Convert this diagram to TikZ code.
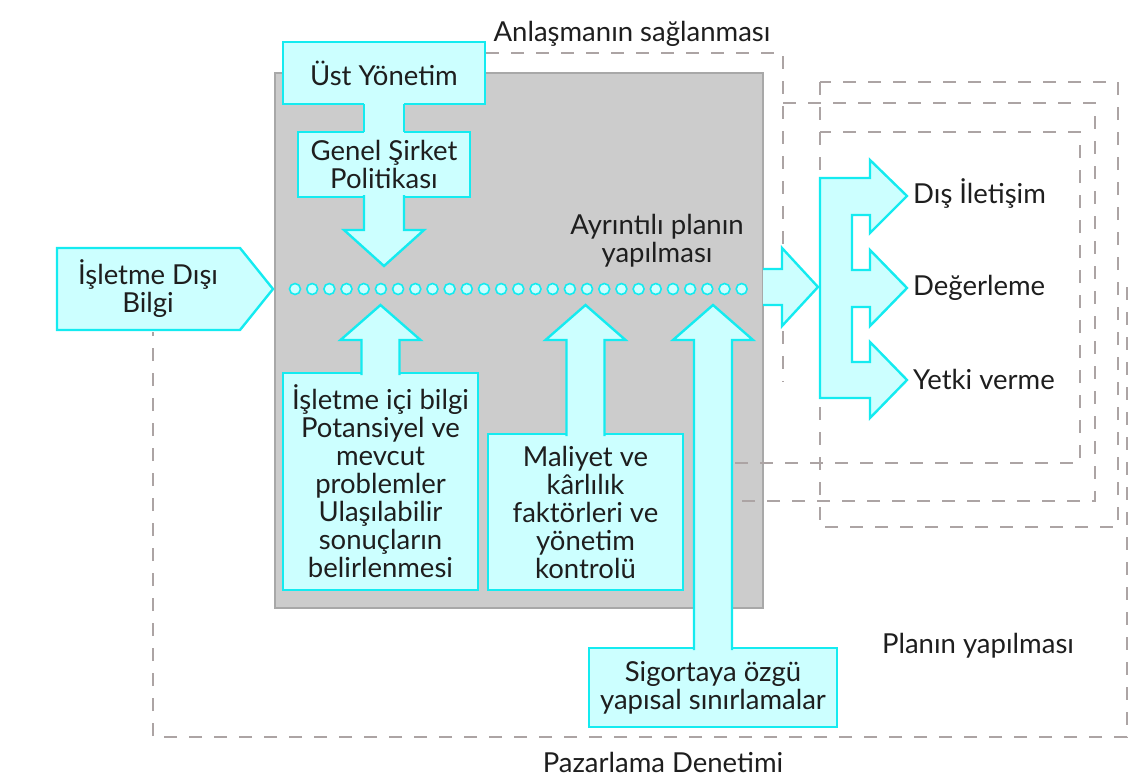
\documentclass[tikz,border=0pt]{standalone}
\usepackage{fontspec}
\setmainfont{Lato}
\usetikzlibrary{calc}

\definecolor{cfill}{RGB}{204,255,255}
\definecolor{cline}{RGB}{20,235,240}
\definecolor{gbox}{RGB}{204,204,204}
\definecolor{gedge}{RGB}{168,168,168}
\definecolor{dline}{RGB}{172,164,164}
\definecolor{txt}{RGB}{30,30,30}

\tikzset{
  blk/.style={fill=cfill, draw=cline, line width=2.4pt},
  box/.style={blk, inner sep=0pt, outer sep=0pt, align=center},
  dashline/.style={draw=dline, line width=2.2pt, dash pattern=on 13pt off 12pt},
  label/.style={text=txt, align=center, inner sep=0pt},
  dotc/.style={circle, fill=cfill, draw=cline, line width=1.6pt, minimum size=11pt, inner sep=0pt},
}

\begin{document}
\begin{tikzpicture}[x=1pt, y=-1pt, font=\fontsize{27.5}{28}\selectfont, text=txt]
\useasboundingbox (0,0) rectangle (1144,782);

% planning area
\node[fill=gbox, draw=gedge, line width=2.5pt, minimum width=488pt, minimum height=535pt, inner sep=0pt, outer sep=0pt] (plan) at (519,340.5) {};

% dashed frames
\draw[dashline] (486,53) -- (783,53) -- (783,382);
\draw[dashline] (783,103) -- (1095,103) -- (1095,501) -- (735,501);
\draw[dashline] (735,463) -- (1080,463) -- (1080,132) -- (820,132);
\draw[dashline] (820,82) rectangle (1118,527);
\draw[dashline] (1127,287) -- (1127,737) -- (153,737) -- (153,332);

\node[label] (anl) at (632,34) {Anlaşmanın sağlanması};
\node[label] (pln) at (978,646) {Planın yapılması};
\node[label] (paz) at (663,762) {Pazarlama Denetimi};
\node[label] (ayr) at (657,241) {Ayrıntılı planın\\yapılması};

% boxes
\node[box, minimum width=202pt, minimum height=62pt] (ust) at (384,73) {Üst Yönetim};
\node[box, minimum width=172pt, minimum height=65pt] (genel) at (384,164.5) {Genel Şirket\\Politikası};
\node[box, minimum width=195pt, minimum height=217pt] (icbilgi) at (380.5,481.5) {İşletme içi bilgi\\Potansiyel ve\\mevcut\\problemler\\Ulaşılabilir\\sonuçların\\belirlenmesi};
\node[box, minimum width=195pt, minimum height=156pt] (maliyet) at (585.5,512) {Maliyet ve\\kârlılık\\faktörleri ve\\yönetim\\kontrolü};
\node[box, minimum width=248pt, minimum height=79pt] (sigorta) at (713,687.5) {Sigortaya özgü\\yapısal sınırlamalar};

% outside information
\draw[blk] (57,248) -- (240,248) -- (273,289) -- (240,330) -- (57,330) -- cycle;
\node[label] (disi) at (148,289) {İşletme Dışı\\Bilgi};

% stem top
\fill[cfill] ($(ust.south)+(-20,-2)$) rectangle ($(genel.north)+(20,2)$);
\draw[cline, line width=2.4pt] ($(ust.south)+(-20,0)$) -- ($(genel.north)+(-20,0)$)
  ($(ust.south)+(20,0)$) -- ($(genel.north)+(20,0)$);

% down arrow
\coordinate (tipd) at (383,266);
\path[blk] ($(genel.south)+(-20,-2)$) -- ($(genel.south |- tipd)+(-20,-36)$) -- ($(genel.south |- tipd)+(-40,-36)$)
  -- (genel.south |- tipd) -- ($(genel.south |- tipd)+(40,-36)$) -- ($(genel.south |- tipd)+(20,-36)$) -- ($(genel.south)+(20,-2)$);

% up arrows
\coordinate (tipy) at (0,305);
\path[blk] ($(icbilgi.north)+(-19,2)$) -- ($(icbilgi.north |- tipy)+(-19,35)$) -- ($(icbilgi.north |- tipy)+(-40,35)$)
  -- (icbilgi.north |- tipy) -- ($(icbilgi.north |- tipy)+(40,35)$) -- ($(icbilgi.north |- tipy)+(19,35)$) -- ($(icbilgi.north)+(19,2)$);
\path[blk] ($(maliyet.north)+(-19,2)$) -- ($(maliyet.north |- tipy)+(-19,35)$) -- ($(maliyet.north |- tipy)+(-40,35)$)
  -- (maliyet.north |- tipy) -- ($(maliyet.north |- tipy)+(40,35)$) -- ($(maliyet.north |- tipy)+(19,35)$) -- ($(maliyet.north)+(19,2)$);
\path[blk] ($(sigorta.north)+(-19,2)$) -- ($(sigorta.north |- tipy)+(-19,35)$) -- ($(sigorta.north |- tipy)+(-40,35)$)
  -- (sigorta.north |- tipy) -- ($(sigorta.north |- tipy)+(40,35)$) -- ($(sigorta.north |- tipy)+(19,35)$) -- ($(sigorta.north)+(19,2)$);

% dotted line
\foreach \i in {0,...,26}
  \node[dotc] (d\i) at (295+17.18*\i,289) {};

% out arrow
\coordinate (ein) at (818,287);
\path[blk] ($(plan.east |- ein)+(0,-18)$) -- ($(ein)+(-36,-18)$) -- ($(ein)+(-36,-39)$) -- (ein)
  -- ($(ein)+(-36,39)$) -- ($(ein)+(-36,18)$) -- ($(plan.east |- ein)+(0,18)$);

% branches
\draw[blk] (820,178) -- (870,178) -- (870,160) -- (907,196) -- (870,233) -- (870,215) -- (852,215)
  -- (852,270) -- (870,270) -- (870,250) -- (907,288) -- (870,326) -- (870,307) -- (852,307)
  -- (852,362) -- (870,362) -- (870,342) -- (907,380) -- (870,418) -- (870,398) -- (820,398) -- cycle;
\node[label, anchor=west] (dis) at (913,194) {Dış İletişim};
\node[label, anchor=west] (deger) at (913,288) {Değerleme};
\node[label, anchor=west] (yetki) at (913,379) {Yetki verme};
\end{tikzpicture}
\end{document}
